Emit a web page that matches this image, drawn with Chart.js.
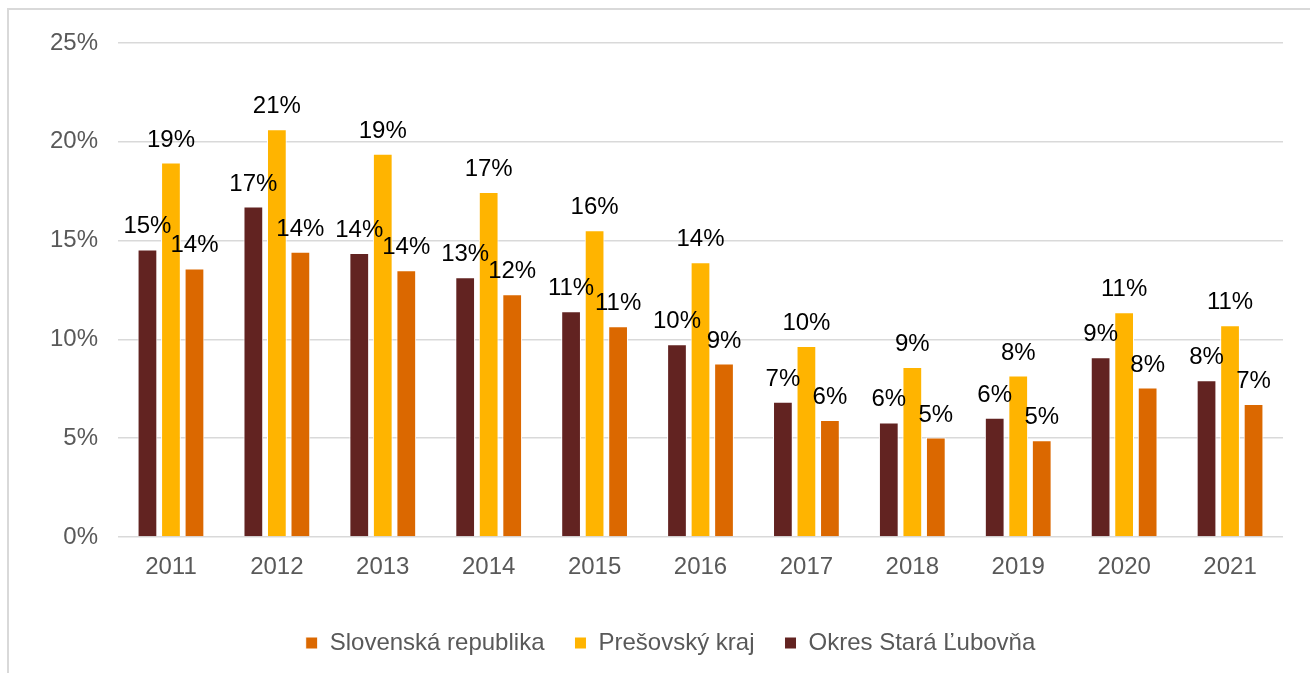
<!DOCTYPE html>
<html>
<head>
<meta charset="utf-8">
<script src="https://cdn.jsdelivr.net/npm/chart.js@4/dist/chart.umd.min.js"></script>
<style>
    html, body { margin: 0; padding: 0; background: #fff; overflow: hidden; }
    .frame {
        position: absolute; left: 7px; top: 8px; width: 1330px; height: 700px;
        border: 2px solid #d9d9d9; box-sizing: border-box;
    }
    .wrap { position: absolute; left: 0; top: 0; width: 1310px; height: 673px; }
</style>
</head>
<body>
<div class="frame"></div>
<div class="wrap"><canvas id="chart"></canvas></div>
<script>
const years = ['2011', '2012', '2013', '2014', '2015', '2016', '2017', '2018', '2019', '2020', '2021'];
const okresStaraLubovna = [14.55, 16.72, 14.37, 13.15, 11.42, 9.75, 6.85, 5.8, 6.04, 9.1, 7.93];
const presovskyKraj = [18.95, 20.64, 19.39, 17.46, 15.53, 13.91, 9.66, 8.6, 8.17, 11.37, 10.71];
const slovenskaRepublika = [13.59, 14.43, 13.5, 12.28, 10.66, 8.78, 5.92, 5.03, 4.89, 7.56, 6.73];
const yTicks = [0, 5, 10, 15, 20, 25];

const FONT = '"Liberation Sans", Arial, sans-serif';

// popisky hodnôt nad stĺpcami
const valueLabels = {
    id: 'valueLabels',
    afterDatasetsDraw(chart) {
        const ctx = chart.ctx;
        ctx.save();
        ctx.font = '24px ' + FONT;
        ctx.fillStyle = '#000';
        ctx.textAlign = 'center';
        ctx.textBaseline = 'alphabetic';
        chart.data.datasets.forEach((ds, i) => {
            chart.getDatasetMeta(i).data.forEach((bar, j) => {
                ctx.fillText(Math.round(ds.data[j]) + '%', bar.x, bar.y - 16);
            });
        });
        ctx.restore();
    }
};

// legenda je v origináli trochu posunutá doprava
const legendShift = {
    id: 'legendShift',
    afterLayout(chart) {
        chart.legend.left += 29;
        chart.legend.right += 29;
    }
};

const ctx = document.getElementById('chart').getContext('2d');

new Chart(ctx, {
    type: 'bar',
    data: {
        labels: years,
        datasets: [
            {
                label: 'Okres Stará Ľubovňa',
                data: okresStaraLubovna,
                backgroundColor: '#622321',
                borderColor: '#ffffff',
                borderWidth: 1
            },
            {
                label: 'Prešovský kraj',
                data: presovskyKraj,
                backgroundColor: '#FFB400',
                borderColor: '#ffffff',
                borderWidth: 1
            },
            {
                label: 'Slovenská republika',
                data: slovenskaRepublika,
                backgroundColor: '#DB6800',
                borderColor: '#ffffff',
                borderWidth: 1
            }
        ]
    },
    options: {
        responsive: true,
        maintainAspectRatio: false,
        animation: false,
        categoryPercentage: 0.666,
        barPercentage: 0.84,
        layout: {
            padding: { top: 43, right: 27, left: 0, bottom: 8 }
        },
        plugins: {
            legend: {
                position: 'bottom',
                reverse: true,
                labels: {
                    boxWidth: 12,
                    boxHeight: 12,
                    padding: 30,
                    color: '#595959',
                    font: { family: FONT, size: 24 }
                }
            },
            tooltip: { enabled: false }
        },
        scales: {
            x: {
                grid: { display: false },
                border: { display: false },
                ticks: {
                    color: '#595959',
                    padding: 8,
                    font: { family: FONT, size: 24 }
                },
                afterFit: s => { s.height = 64; }
            },
            y: {
                min: 0,
                max: 25,
                afterBuildTicks: s => { s.ticks = yTicks.map(v => ({ value: v })); },
                grid: { color: '#d9d9d9', lineWidth: 1.5, drawTicks: false },
                border: { display: false },
                ticks: {
                    color: '#595959',
                    padding: 20,
                    font: { family: FONT, size: 24 },
                    callback: v => v + '%'
                },
                afterFit: s => { s.width = 118; }
            }
        }
    },
    plugins: [valueLabels, legendShift]
});
</script>
</body>
</html>
